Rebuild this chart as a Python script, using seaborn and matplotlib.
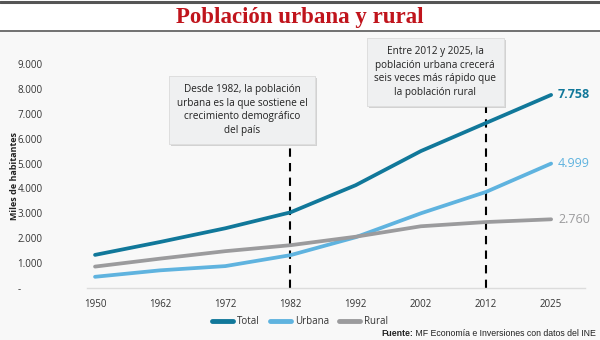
import matplotlib
matplotlib.use("Agg")
import matplotlib.pyplot as plt
import matplotlib.patheffects as pe
from matplotlib.lines import Line2D
import seaborn as sns
import pandas as pd

years = ["1950", "1962", "1972", "1982", "1992", "2002", "2012", "2025"]
total = [1330, 1850, 2400, 3040, 4130, 5500, 6630, 7758]
urbana = [450, 710, 880, 1320, 2040, 3000, 3860, 4999]
rural = [860, 1180, 1480, 1720, 2060, 2480, 2650, 2760]
series = ["Total", "Urbana", "Rural"]
end_labels = ["7.758", "4.999", "2.760"]
ytick_vals = [0, 1000, 2000, 3000, 4000, 5000, 6000, 7000, 8000, 9000]
ytick_labels = ["-", "1.000", "2.000", "3.000", "4.000", "5.000", "6.000", "7.000", "8.000", "9.000"]
note1 = "Desde 1982, la población\nurbana es la que sostiene el\ncrecimiento demográfico\ndel país"
note2 = "Entre 2012 y 2025, la\npoblación urbana crecerá\nseis veces más rápido que\nla población rural"
title = "Población urbana y rural"
source_bold = "Fuente:"
source_rest = " MF Economía e Inversiones con datos del INE"

colors = {"Total": "#11789a", "Urbana": "#5fb3df", "Rural": "#9b9b9d"}

df = pd.DataFrame({
    "Año": years * 3,
    "Valor": total + urbana + rural,
    "Serie": ["Total"] * 8 + ["Urbana"] * 8 + ["Rural"] * 8,
})

sns.set_theme(style="white")
plt.rcParams["font.family"] = ["Open Sans", "DejaVu Sans"]

bg = "#f8f8f8"
fig = plt.figure(figsize=(6, 3.4), dpi=100, facecolor=bg)
# title band
fig.patches.append(plt.Rectangle((0, 1 - 31 / 340), 1, 31 / 340, transform=fig.transFigure,
                                 facecolor="white", edgecolor="none", zorder=0))
fig.add_artist(Line2D([0, 1], [1 - 1.5 / 340] * 2, color="#555555", lw=2.2))
fig.add_artist(Line2D([0, 1], [1 - 31 / 340] * 2, color="#666666", lw=1.3))
fig.text(0.5, 1 - 17.5 / 340, title, ha="center", va="center", fontsize=16.5,
         fontweight="bold", color="#c0141c", family=["Liberation Serif", "DejaVu Serif"])

ax = fig.add_axes([62 / 600, 1 - 288 / 340, (585 - 62) / 600, (288 - 64) / 340])
ax.set_facecolor(bg)
sns.lineplot(data=df, x="Año", y="Valor", hue="Serie", palette=colors, linewidth=2.7,
             ax=ax, legend=False, sort=False)
for ln in ax.lines:
    ln.set_solid_capstyle("round")

ax.set_ylim(0, 9000)
ax.set_xlim(-0.507, 7.52)
ax.set_yticks(ytick_vals)
ax.set_yticklabels(ytick_labels)
ax.tick_params(axis="y", length=0, pad=32, labelsize=7, labelcolor="#333333")
ax.tick_params(axis="x", length=0, pad=8, labelsize=7, labelcolor="#333333")
for lbl in ax.get_yticklabels():
    lbl.set_horizontalalignment("left")
ax.set_xlabel("")
ax.set_ylabel("Miles de habitantes", fontsize=6.5, fontweight="bold", labelpad=6, color="#222222")
ax.yaxis.set_label_coords(-0.082, 0.5)
for s in ["top", "right", "left"]:
    ax.spines[s].set_visible(False)
ax.spines["bottom"].set_color("#dcdcdc")
ax.spines["bottom"].set_linewidth(1)
ax.spines["bottom"].set_bounds(-0.507 + 0.38, 7.52)

# dashed reference lines
ax.vlines("1982", 0, 5950, colors="black", linestyles=(0, (4, 3)), linewidth=1.5, zorder=1)
ax.vlines("2012", 0, 7480, colors="black", linestyles=(0, (4, 3)), linewidth=1.5, zorder=1)

# end labels
last = [total[-1], urbana[-1], rural[-1]]
for s, v, t in zip(series, last, end_labels):
    ax.annotate(t, xy=(len(years) - 1, v), xytext=(5, 0), textcoords="offset points",
                va="center", ha="left", fontsize=9, color=colors[s],
                fontweight="bold" if s == "Total" else "normal", annotation_clip=False)

# annotation boxes
for txt, cx, cy in [(note1, 242 / 600, 1 - 110 / 340), (note2, 435 / 600, 1 - 72 / 340)]:
    t = fig.text(cx, cy, txt, ha="center", va="center", fontsize=7.2, color="#222222",
                 linespacing=1.35,
                 bbox=dict(boxstyle="square,pad=0.75", facecolor="#eff0f1", edgecolor="#dddddd", lw=0.6))
    t.get_bbox_patch().set_path_effects([pe.withSimplePatchShadow(offset=(1.5, -1.5), shadow_rgbFace="#999999", alpha=0.4), pe.Normal()])

# legend
handles = [Line2D([0], [0], color=colors[s], lw=3.5, solid_capstyle="round") for s in series]
fig.legend(handles, series, loc="center", bbox_to_anchor=(300 / 600, 1 - 322 / 340), ncol=3,
           frameon=False, fontsize=7, handlelength=2.2, handletextpad=0.4, columnspacing=1.0,
           labelcolor="#333333")

# source
fam = ["Liberation Sans Narrow", "Liberation Sans", "DejaVu Sans"]
rest = fig.text(596 / 600, 1 - 333 / 340, source_rest, ha="right", va="center", fontsize=6.3,
                color="#222222", family=fam)
fig.canvas.draw()
r = rest.get_window_extent(fig.canvas.get_renderer())
fig.text(r.x0 / fig.bbox.width, 1 - 333 / 340, source_bold, ha="right", va="center", fontsize=6.3,
         fontweight="bold", color="#222222", family=fam)

fig.savefig("out.png", dpi=100, facecolor=bg)
